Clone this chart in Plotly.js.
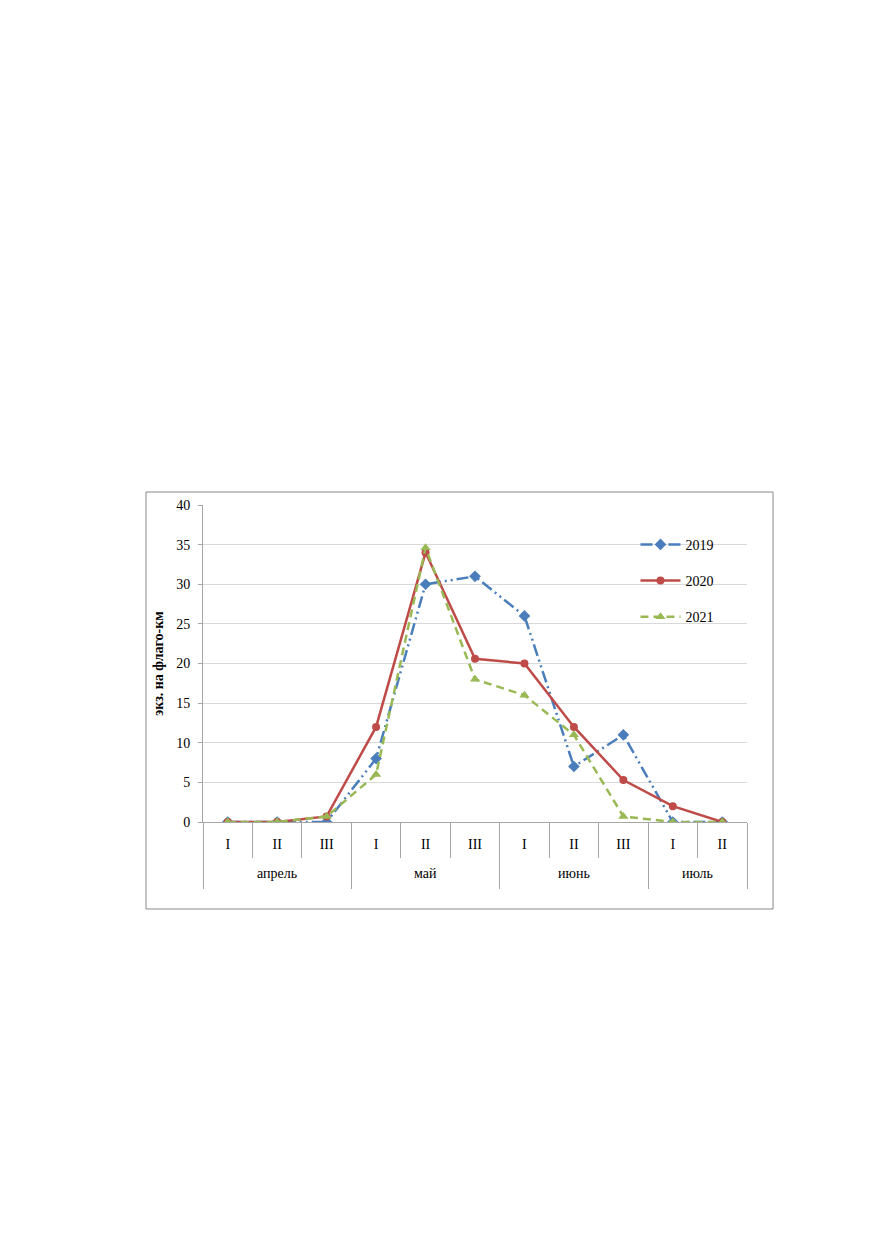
<!DOCTYPE html>
<html>
<head>
<meta charset="utf-8">
<script src="https://cdn.plot.ly/plotly-3.0.1.min.js"></script>
<style>html,body{margin:0;padding:0;background:#fff;}#chart{width:875px;height:1241px;}</style>
</head>
<body>
<div id="chart"></div>
<script>
const months = ['апрель','апрель','апрель','май','май','май','июнь','июнь','июнь','июль','июль'];
const decades = ['I','II','III','I','II','III','I','II','III','I','II'];
const y2019 = [0, 0, 0, 8, 30, 31, 26, 7, 11, 0, 0];
const y2020 = [0, 0, 0.7, 12, 34, 20.6, 20, 12, 5.3, 2, 0];
const y2021 = [0, 0, 0.7, 6, 34.6, 18, 16, 11, 0.7, 0, 0];
const seriesNames = ['2019', '2020', '2021'];
const yTitle = 'экз. на флаго-км';

const font = '"Liberation Serif", "Times New Roman", serif';
const idx = decades.map((_, i) => i);
const n = decades.length;

// boundaries between decades and between months, derived from the category arrays
const decadeBounds = [];
for (let i = 0; i <= n; i++) decadeBounds.push(i - 0.5);
const monthNames = [];
const monthBounds = [-0.5];
const monthCenters = [];
let start = 0;
for (let i = 1; i <= n; i++) {
  if (i === n || months[i] !== months[i - 1]) {
    monthNames.push(months[i - 1]);
    monthCenters.push((start + i - 1) / 2);
    monthBounds.push(i - 0.5);
    start = i;
  }
}

const traces = [
  {x:idx, y:y2019, name:seriesNames[0], legendgroup:'a', type:'scatter', mode:'lines+markers',
   line:{color:'#4a7ebb', width:2.5, dash:'12px,4px,2px,4px,2px,4px'}, marker:{symbol:'diamond', size:9, color:'#4a7ebb'}},
  {x:idx, y:y2020, name:seriesNames[1], legendgroup:'b', type:'scatter', mode:'lines+markers',
   line:{color:'#be4b48', width:2.5}, marker:{symbol:'circle', size:8, color:'#be4b48'}},
  {x:idx, y:y2021, name:seriesNames[2], legendgroup:'c', type:'scatter', mode:'lines+markers',
   line:{color:'#98b954', width:2.5, dash:'8px,5px'}, marker:{symbol:'triangle-up', size:9, color:'#98b954'}}
];
const xr = [-0.5, n - 0.5];
const layout = {
  width:875, height:1241,
  margin:{l:203, r:128, t:505, b:419},
  paper_bgcolor:'#fff', plot_bgcolor:'#fff',
  font:{family:font, size:14, color:'#000'},
  showlegend:true,
  legend:{x:0.795, y:0.925, xanchor:'left', yanchor:'top', bgcolor:'rgba(0,0,0,0)', itemwidth:40,
          font:{family:font, size:14}, tracegroupgap:15},
  xaxis:{range:xr, showgrid:false, zeroline:false, showline:true, linecolor:'#a6a6a6', linewidth:1,
         tickvals:idx, ticktext:decades, ticks:'outside', ticklen:9, tickcolor:'rgba(0,0,0,0)',
         tickfont:{family:font, size:14}},
  xaxis2:{range:xr, overlaying:'x', anchor:'y', side:'bottom', showgrid:false, zeroline:false,
          showline:false, tickvals:decadeBounds, ticks:'outside', ticklen:35, tickcolor:'#a6a6a6',
          showticklabels:false},
  xaxis3:{range:xr, overlaying:'x', anchor:'y', side:'bottom', showgrid:false, zeroline:false,
          showline:false, tickvals:monthBounds, ticks:'outside', ticklen:66, tickcolor:'#a6a6a6',
          showticklabels:false},
  yaxis:{range:[0,40], dtick:5, showgrid:true, gridcolor:'#d9d9d9', zeroline:false,
         showline:true, linecolor:'#a6a6a6', ticks:'outside', ticklen:4, tickcolor:'#a6a6a6',
         ticklabelstandoff:5, tickfont:{family:font, size:14},
         title:{text:yTitle, font:{family:font, size:14, color:'#000', weight:'bold'}, standoff:9}},
  annotations: monthNames.map((m, k) => ({x:monthCenters[k], xref:'x', y:-0.164, yref:'paper',
           text:m, showarrow:false, yanchor:'middle', font:{family:font, size:14, color:'#000'}})),
  shapes:[{type:'rect', xref:'paper', yref:'paper', x0:-0.1048, x1:1.0478, y0:-0.2744, y1:1.041,
           line:{color:'#888', width:1}, fillcolor:'rgba(0,0,0,0)', layer:'below'}]
};
// invisible traces to anchor the overlay axes
traces.push({x:[0], y:[0], xaxis:'x2', yaxis:'y', mode:'markers', marker:{opacity:0}, showlegend:false, hoverinfo:'skip'});
traces.push({x:[0], y:[0], xaxis:'x3', yaxis:'y', mode:'markers', marker:{opacity:0}, showlegend:false, hoverinfo:'skip'});
Plotly.newPlot('chart', traces, layout, {displayModeBar:false, staticPlot:true});
</script>
</body>
</html>
